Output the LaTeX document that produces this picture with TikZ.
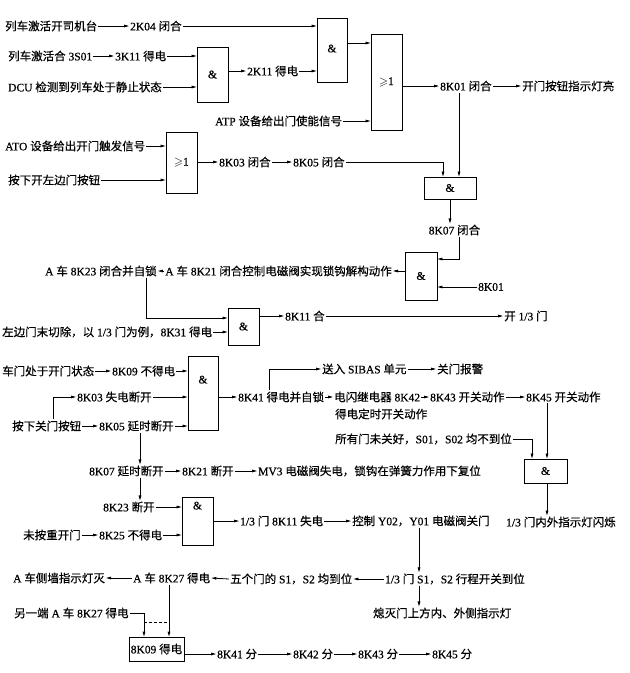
\documentclass[tikz,border=0pt]{standalone}
\usepackage{amssymb}
\usepackage{fontspec}
\setmainfont{Liberation Serif}[FakeBold=0.6]
\newfontfamily\cjkf{Noto Sans CJK SC}[FakeBold=0.4]
\usetikzlibrary{arrows.meta,calc}
\XeTeXinterchartokenstate=1
\newXeTeXintercharclass\myCJK
\newcount\cc
\cc="3000 \loop \XeTeXcharclass\cc=\myCJK \advance\cc by 1 \ifnum\cc<"3040 \repeat
\cc="4E00 \loop \XeTeXcharclass\cc=\myCJK \advance\cc by 1 \ifnum\cc<"A000 \repeat
\cc="FF00 \loop \XeTeXcharclass\cc=\myCJK \advance\cc by 1 \ifnum\cc<"FFF0 \repeat
\XeTeXinterchartoks 0 \myCJK = {\cjkf}
\XeTeXinterchartoks 4095 \myCJK = {\cjkf}
\XeTeXinterchartoks \myCJK 0 = {\rmfamily}
\XeTeXinterchartoks \myCJK 4095 = {\rmfamily}
\tikzset{
  txt/.style={inner sep=1pt, anchor=west, font=\fontsize{11.5}{13}\selectfont, text=black},
  gate/.style={draw, line width=0.9pt, inner sep=0pt, font=\fontsize{11.5}{13}\selectfont},
  toplbl/.style={font=\fontsize{11.5}{13}\selectfont, anchor=north, inner sep=0pt},
  arr/.style={-{Triangle[length=5pt,width=2.6pt]}, line width=0.8pt},
}
\begin{document}
\begin{tikzpicture}[x=1pt,y=-1pt]
\useasboundingbox (0,0) rectangle (630,673);
% ---------- section 1
\node[txt] (a1) at (4,26) {列车激活开司机台};
\node[txt] (a2) at (129,26) {2K04 闭合};
\node[txt] (b1) at (7,56) {列车激活合 3S01};
\node[txt] (b2) at (114,56) {3K11 得电};
\node[txt] (c1) at (7,87) {DCU 检测到列车处于静止状态};
\node[gate, minimum width=31pt, minimum height=55pt] (g1) at (212.5,74.5) {\&};
\node[txt] (d1) at (246,71) {2K11 得电};
\node[gate, minimum width=30pt, minimum height=64pt] (g2) at (332,50) {\raisebox{3pt}{\&}};
\node[gate, minimum width=31pt, minimum height=96pt] (g3) at (386.5,82) {$\geqslant$1};
\node[txt] (e1) at (214,121) {ATP 设备给出门使能信号};
\node[txt] (f1) at (439,86) {8K01 闭合};
\node[txt] (f2) at (521,86) {开门按钮指示灯亮};
\draw[arr] (a1.east) -- (a2.west);
\draw[arr] (a2.east) -- (a2.east -| g2.west);
\draw[arr] (b1.east) -- (b2.west);
\draw[arr] (b2.east) -- (b2.east -| g1.west);
\draw[arr] (c1.east) -- (c1.east -| g1.west);
\draw[arr] (d1.west -| g1.east) -- (d1.west);
\draw[arr] (d1.east) -- (d1.east -| g2.west);
\coordinate (g2o) at ([yshift=7pt]g2.east);
\draw[arr] (g2o) -- (g2o -| g3.west);
\draw[arr] (e1.east) -- (e1.east -| g3.west);
\draw[arr] (f1.west -| g3.east) -- (f1.west);
\draw[arr] (f1.east) -- (f2.west);
% ---------- ATO
\node[txt] (at1) at (4,146) {ATO 设备给出开门触发信号};
\node[txt] (at2) at (7,180) {按下开左边门按钮};
\node[gate, minimum width=31pt, minimum height=61pt] (g4) at (181.5,162.5) {$\geqslant$1};
\node[txt] (k03) at (218,162) {8K03 闭合};
\node[txt] (k05) at (292,162) {8K05 闭合};
\node[gate, minimum width=52pt, minimum height=22pt] (g5) at (450,188) {\&};
\node[txt, anchor=center] (h1) at (454.5,230) {8K07 闭合};
\coordinate (c443) at (443,0);
\coordinate (c459) at (459,0);
\draw[arr] (at1.east) -- (at1.east -| g4.west);
\draw[arr] (at2.east) -- (at2.east -| g4.west);
\draw[arr] (k03.west -| g4.east) -- (k03.west);
\draw[arr] (k03.east) -- (k05.west);
\draw[arr] (k05.east) -| (c443 |- g5.north);
\draw[arr] (f1.south -| c459) -- (g5.north -| c459);
\draw[arr] (g5.south) -- (g5.south |- h1.north);
% ---------- gate 6
\node[gate, minimum width=32pt, minimum height=48pt] (g6) at (421,276) {\&};
\node[txt] (i1) at (477,287) {8K01};
\node[txt, anchor=east] (j1) at (393,271) {A 车 8K21 闭合控制电磁阀实现锁钩解构动作};
\node[txt] (j2) at (44,271) {A 车 8K23 闭合并自锁};
\coordinate (g6a) at ([yshift=17pt]g6.east);
\draw[arr] (h1.south -| c459) |- (g6a);
\draw[arr] (i1.west) -- (i1.west -| g6.east);
\draw[arr] (j1.east -| g6.west) -- (j1.east);
\draw[arr] (j1.west) -- (j2.east);
% ---------- gate 7
\node[gate, minimum width=31pt, minimum height=37pt] (g7) at (243.5,326.5) {\&};
\node[txt] (k1) at (1,332) {左边门末切除，以 1/3 门为例，8K31 得电};
\node[txt] (l1) at (284,316) {8K11 合};
\node[txt] (l2) at (503,316) {开 1/3 门};
\coordinate (c146) at (146,0);
\coordinate (g7a) at ([yshift=8.5pt]g7.west);
\draw[arr] (j2.south -| c146) |- (g7a);
\draw[arr] (k1.east) -- (k1.east -| g7.west);
\draw[arr] (l1.west -| g7.east) -- (l1.west);
\draw[arr] (l1.east) -- (l2.west);
% ---------- section 3
\node[txt] (m1) at (1,371) {车门处于开门状态};
\node[txt] (m2) at (111,371) {8K09 不得电};
\node[gate, minimum width=30pt, minimum height=74pt, label={[toplbl, yshift=-20pt]north:\&}] (g8) at (203,393) {};
\node[txt] (n1) at (76,397) {8K03 失电断开};
\node[txt] (o1) at (11,426) {按下关门按钮};
\node[txt] (o2) at (98,426) {8K05 延时断开};
\node[txt] (p1) at (237,397) {8K41 得电并自锁};
\node[txt] (q0) at (321,369) {送入 SIBAS 单元};
\node[txt] (q1) at (436,369) {关门报警};
\node[txt] (p2) at (333,397) {电闪继电器 8K42};
\node[txt] (p3) at (334,414) {得电定时开关动作};
\node[txt] (p4) at (429,397) {8K43 开关动作};
\node[txt] (p5) at (525,397) {8K45 开关动作};
\node[txt] (r1) at (334,439) {所有门未关好，S01，S02 均不到位};
\node[gate, minimum width=43pt, minimum height=24pt] (g9) at (545.5,471) {\&};
\node[txt] (s1) at (505,522) {1/3 门内外指示灯闪烁};
\coordinate (c53) at (53,0);
\coordinate (c269) at (269,0);
\coordinate (c547) at (547,0);
\coordinate (c532) at (532,0);
\draw[arr] (m1.east) -- (m2.west);
\draw[arr] (m2.east) -- (m2.east -| g8.west);
\draw[arr] (n1.east) -- (n1.east -| g8.west);
\draw[arr] (o1.north -| c53) |- (n1.west);
\draw[arr] (o1.east) -- (o2.west);
\draw[arr] (o2.east) -- (o2.east -| g8.west);
\draw[arr] (p1.west -| g8.east) -- (p1.west);
\draw[arr] (p1.north -| c269) |- (q0.west);
\draw[arr] (q0.east) -- (q1.west);
\draw[arr] (p1.east) -- (p2.west);
\draw[arr] (p2.east) -- (p4.west);
\draw[arr] (p4.east) -- (p5.west);
\draw[arr] (p5.south -| c547) -- (g9.north -| c547);
\draw[arr] (r1.east) -| (c532 |- g9.north);
\draw[arr] (g9.south -| c547) -- (s1.north -| c547);
% ---------- closing
\node[txt] (t1) at (88,471) {8K07 延时断开};
\node[txt] (t2) at (181,471) {8K21 断开};
\node[txt] (t3) at (257,471) {MV3 电磁阀失电，锁钩在弹簧力作用下复位};
\node[txt] (u1) at (102,507) {8K23 断开};
\node[txt] (u2) at (22,535) {未按重开门};
\node[txt] (u3) at (98,535) {8K25 不得电};
\node[gate, minimum width=31pt, minimum height=48pt, label={[toplbl, yshift=-5pt]north:\&}] (g10) at (197.5,521) {};
\node[txt] (v1) at (239,521) {1/3 门 8K11 失电};
\node[txt] (v2) at (351,521) {控制 Y02，Y01 电磁阀关门};
\coordinate (c140) at (140,0);
\coordinate (c419) at (419,0);
\draw[arr] (o2.south -| c140) -- (t1.north -| c140);
\draw[arr] (t1.east) -- (t2.west);
\draw[arr] (t2.east) -- (t3.west);
\draw[arr] (t1.south -| c140) -- (u1.north -| c140);
\draw[arr] (u1.east) -- (u1.east -| g10.west);
\draw[arr] (u2.east) -- (u3.west);
\draw[arr] (u3.east) -- (u3.east -| g10.west);
\draw[arr] (v1.west -| g10.east) -- (v1.west);
\draw[arr] (v1.east) -- (v2.west);
% ---------- bottom
\node[txt] (w1) at (384,579) {1/3 门 S1，S2 行程开关到位};
\node[txt] (w2) at (229,579) {五个门的 S1，S2 均到位};
\node[txt] (w3) at (132,578) {A 车 8K27 得电};
\node[txt] (w4) at (12,578) {A 车侧墙指示灯灭};
\node[txt] (x1) at (372,613) {熄灭门上方内、外侧指示灯};
\node[txt] (y1) at (13,613) {另一端 A 车 8K27 得电};
\node[gate, line width=0.8pt, minimum width=55pt, minimum height=24pt] (g11) at (156.5,649) {8K09 得电};
\node[txt] (z1) at (216,654) {8K41 分};
\node[txt] (z2) at (292,654) {8K42 分};
\node[txt] (z3) at (357,654) {8K43 分};
\node[txt] (z4) at (431,654) {8K45 分};
\coordinate (c169) at (169,0);
\coordinate (c144) at (144,0);
\coordinate (dA) at (144,622);
\coordinate (dB) at (169,622);
\draw[arr] (v2.south -| c419) -- (w1.north -| c419);
\draw[arr] (w1.west) -- (w2.east);
\draw[arr] (w2.west) -- (w3.east);
\draw[arr] (w3.west) -- (w4.east);
\draw[arr] (w1.south -| c419) -- (x1.north -| c419);
\draw[arr] (w3.south -| c169) -- (g11.north -| c169);
\draw[arr] (y1.east) -| (c144 |- g11.north);
\draw[densely dashed, line width=0.5pt] (dA) -- (dB);
\draw[arr] (z1.west -| g11.east) -- (z1.west);
\draw[arr] (z1.east) -- (z2.west);
\draw[arr] (z2.east) -- (z3.west);
\draw[arr] (z3.east) -- (z4.west);
\end{tikzpicture}
\end{document}
